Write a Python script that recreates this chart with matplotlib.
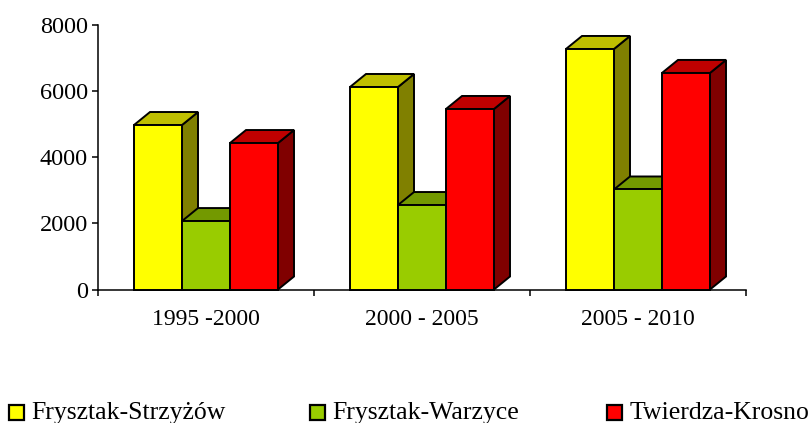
import matplotlib
matplotlib.use('Agg')
import matplotlib.pyplot as plt
from matplotlib.patches import Rectangle

plt.rcParams['font.family'] = ['Liberation Serif', 'DejaVu Serif']

categories = ['1995 -2000', '2000 - 2005', '2005 - 2010']
series_names = ['Frysztak-Strzyżów', 'Frysztak-Warzyce', 'Twierdza-Krosno']
strzyzow = [4975, 6125, 7275]
warzyce = [2070, 2555, 3025]
krosno = [4430, 5460, 6550]
y_ticks = [0, 2000, 4000, 6000, 8000]

front_colors = ['#ffff00', '#99cc00', '#ff0000']
top_colors = ['#bfbf00', '#739900', '#bf0000']
side_colors = ['#808000', '#4d6600', '#800000']

W, H = 812, 423
fig = plt.figure(figsize=(W / 100, H / 100), dpi=100)
ax = fig.add_axes([98 / W, 1 - 289.5 / H, 648 / W, 264.5 / H])

bar_w = 48 / 216
dx = 16 / 216
dy = 13 / 264.5 * 8000
edge = 1.4


def bar3d(x, val, i):
    # side and top faces first, then the front
    ax.fill([x + bar_w, x + bar_w + dx, x + bar_w + dx, x + bar_w],
            [0, dy, val + dy, val], color=side_colors[i], ec='black', lw=edge,
            joinstyle='miter', clip_on=False, zorder=3)
    ax.fill([x, x + dx, x + bar_w + dx, x + bar_w],
            [val, val + dy, val + dy, val], color=top_colors[i], ec='black', lw=edge,
            joinstyle='miter', clip_on=False, zorder=3)
    ax.bar(x, val, bar_w, align='edge', color=front_colors[i], ec='black', lw=edge,
           clip_on=False, zorder=3)


for c in range(len(categories)):
    for i, vals in enumerate([strzyzow, warzyce, krosno]):
        bar3d(c + 1 / 6 + i * bar_w, vals[c], i)

ax.set_xlim(0, 3)
ax.set_ylim(0, 8000)
ax.set_yticks(y_ticks)
ax.set_xticks([0, 1, 2, 3])
ax.set_xticklabels([])
ax.set_xticks([0.5, 1.5, 2.5], categories, minor=True)
ax.tick_params(axis='x', which='major', length=4.3, width=1.1, direction='out')
ax.tick_params(axis='x', which='minor', length=0, pad=14, labelsize=17)
ax.tick_params(axis='y', length=4.3, width=1.1, pad=3, labelsize=17.5)
ax.spines['top'].set_visible(False)
ax.spines['right'].set_visible(False)
ax.spines['left'].set_linewidth(1.1)
ax.spines['bottom'].set_linewidth(1.1)
ax.set_axisbelow(False)

# legend, placed by hand
leg_x = [9, 310, 607]
for x0, name, col in zip(leg_x, series_names, front_colors):
    fig.add_artist(Rectangle((x0 / W, 1 - 420 / H), 15 / W, 15 / H, fc=col, ec='black',
                             lw=1.6, transform=fig.transFigure))
    fig.text((x0 + 22.5) / W, 1 - 413 / H, name, fontsize=18.5, va='center', ha='left')

fig.savefig('out.png', dpi=100)
